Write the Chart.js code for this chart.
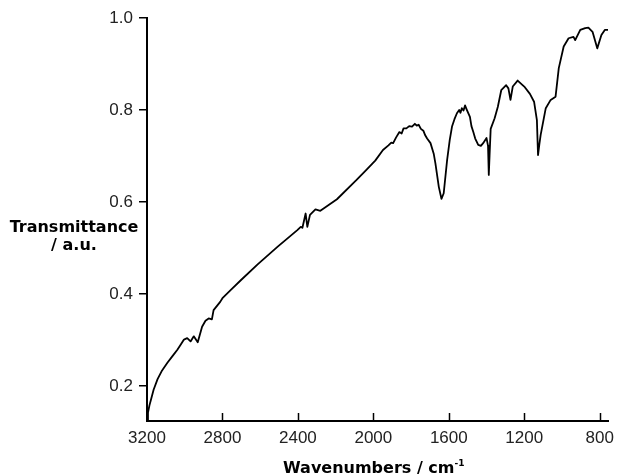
<!DOCTYPE html>
<html>
<head>
<meta charset="utf-8">
<script src="https://cdn.jsdelivr.net/npm/chart.js@4/dist/chart.umd.min.js"></script>
<style>
  html, body { margin: 0; padding: 0; background: #fff; }
  #wrap { position: relative; width: 621px; height: 476px; }
  #wrap canvas { position: absolute; left: 0; top: 0; }
  .ttl { position: absolute; font-family: "DejaVu Sans", sans-serif; font-weight: bold; font-size: 16px; line-height: 18px; color: #000; white-space: nowrap; }
  #ytitle { left: 0; width: 148px; top: 218px; text-align: center; }
  #xtitle { left: 283px; top: 459px; }
  #xtitle sup { font-size: 9px; vertical-align: 0; position: relative; top: -7px; }
</style>
</head>
<body>
<div id="wrap">
  <canvas id="c" width="621" height="476"></canvas>
  <div id="ytitle" class="ttl">Transmittance<br>/ a.u.</div>
  <div id="xtitle" class="ttl">Wavenumbers / cm<sup>-1</sup></div>
</div>
<script>
const wavenumbers = [3200,3195,3187,3178,3165,3144,3120,3091,3065,3039,3020,3004,2987,2969,2952,2931,2908,2890,2873,2856,2847,2812,2800,2750,2700,2612,2507,2403,2385,2376,2359,2350,2336,2307,2281,2193,2089,2037,1990,1949,1920,1905,1895,1880,1862,1850,1840,1825,1810,1795,1780,1770,1760,1748,1735,1725,1715,1697,1680,1671,1653,1639,1627,1609,1595,1583,1570,1557,1545,1538,1531,1522,1514,1505,1488,1480,1470,1460,1444,1430,1418,1400,1392,1388,1384,1378,1357,1340,1322,1296,1284,1273,1261,1235,1200,1170,1148,1133,1127,1120,1113,1086,1060,1034,1017,991,965,939,930,903,877,860,838,813,791,773,756];
const transmittance = [0.126,0.142,0.158,0.172,0.192,0.215,0.234,0.251,0.265,0.279,0.291,0.301,0.304,0.297,0.308,0.295,0.329,0.342,0.347,0.345,0.365,0.383,0.391,0.411,0.431,0.465,0.503,0.539,0.546,0.544,0.575,0.546,0.572,0.584,0.581,0.606,0.648,0.670,0.690,0.713,0.723,0.729,0.728,0.740,0.752,0.749,0.760,0.760,0.765,0.764,0.770,0.766,0.768,0.759,0.755,0.745,0.738,0.728,0.705,0.684,0.633,0.607,0.619,0.691,0.735,0.764,0.780,0.793,0.800,0.794,0.804,0.799,0.810,0.801,0.785,0.765,0.752,0.738,0.724,0.722,0.728,0.739,0.722,0.659,0.700,0.759,0.782,0.807,0.843,0.854,0.847,0.822,0.851,0.864,0.851,0.835,0.818,0.778,0.702,0.725,0.746,0.804,0.822,0.829,0.891,0.938,0.956,0.959,0.952,0.974,0.978,0.979,0.970,0.934,0.963,0.974,0.974];
const xTicks = [3200,2800,2400,2000,1600,1200,800];
const yTicks = [0.2,0.4,0.6,0.8,1.0];

const points = wavenumbers.map((w, i) => ({ x: w, y: transmittance[i] }));

const innerXTicks = {
  id: 'innerXTicks',
  afterDraw(chart) {
    const xs = chart.scales.x;
    const ctx = chart.ctx;
    const b = chart.chartArea.bottom;
    ctx.save();
    ctx.strokeStyle = '#000';
    ctx.lineWidth = 1.5;
    xTicks.forEach(v => {
      const px = Math.round(xs.getPixelForValue(v)) + 0.5;
      ctx.beginPath();
      ctx.moveTo(px, b);
      ctx.lineTo(px, b - 8);
      ctx.stroke();
    });
    ctx.restore();
  }
};

new Chart(document.getElementById('c'), {
  type: 'line',
  data: {
    datasets: [{
      data: points,
      borderColor: '#000',
      borderWidth: 1.8,
      pointRadius: 0,
      tension: 0,
      borderJoinStyle: 'round',
      fill: false
    }]
  },
  options: {
    responsive: false,
    animation: false,
    layout: { padding: { top: 18, right: 6, left: 0, bottom: 0 } },
    plugins: { legend: { display: false }, tooltip: { enabled: false } },
    scales: {
      x: {
        type: 'linear',
        reverse: true,
        min: 755,
        max: 3200,
        afterBuildTicks: s => { s.ticks = xTicks.map(v => ({ value: v })); },
        afterFit: s => { s.height = 55; },
        grid: { display: false, drawTicks: false },
        border: { display: true, color: '#000', width: 2 },
        ticks: {
          color: '#222',
          padding: 7,
          maxRotation: 0,
          font: { family: '"Liberation Sans", Arial, sans-serif', size: 17 },
          callback: v => String(v)
        }
      },
      y: {
        min: 0.124,
        max: 1.0,
        afterBuildTicks: s => { s.ticks = yTicks.map(v => ({ value: v })); },
        afterFit: s => { s.width = 147; },
        grid: { drawOnChartArea: false, drawTicks: true, tickLength: 8, color: '#000', lineWidth: 1.5 },
        border: { display: true, color: '#000', width: 2 },
        ticks: {
          color: '#222',
          padding: 6,
          font: { family: '"Liberation Sans", Arial, sans-serif', size: 17 },
          callback: v => Number(v).toFixed(1)
        }
      }
    }
  },
  plugins: [innerXTicks]
});
</script>
</body>
</html>
